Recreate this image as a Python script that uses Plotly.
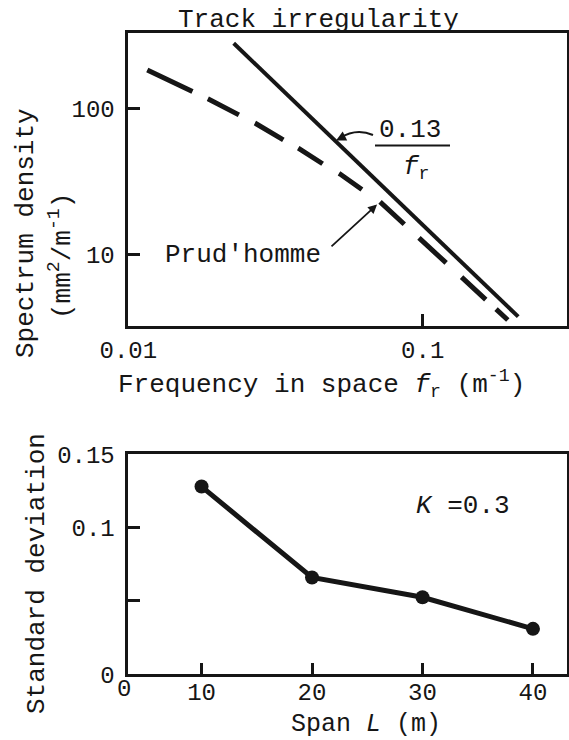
import numpy as np
import plotly.graph_objects as go

# ---- Track irregularity spectra (log-log) ----
# reference line 0.13/f_r
ref_freq = [0.0228, 0.211]            # m^-1
ref_psd = [279.0, 3.74]               # mm^2/m^-1

# Prud'homme spectrum
prud_freq = [0.0116, 0.0166, 0.0187, 0.0238, 0.0270, 0.0337, 0.0379,
             0.0459, 0.0524, 0.0625, 0.0716, 0.1945]
prud_psd = [183.0, 131.0, 116.0, 90.0, 79.0, 60.7, 53.2,
            41.5, 35.5, 27.6, 22.9, 3.55]
kink = 10                              # index where the slope changes

freq_ticks = [0.01, 0.1]
freq_ticktext = ["0.01", "0.1"]
psd_ticks = [10, 100]
psd_ticktext = ["10", "100"]

# ---- Standard deviation vs span ----
span = [10, 20, 30, 40]                # m
std_dev = [0.128, 0.066, 0.0525, 0.031]

span_ticks = [10, 20, 30, 40]
std_ticks = [0, 0.05, 0.1, 0.15]
std_ticktext = ["0", "", "0.1", "0.15"]

FONT = "Liberation Mono, Courier New, monospace"
INK = "#161616"
W, H = 569, 740


def px(x):
    return x / W


def py(y):
    return 1 - y / H


fig = go.Figure()

fig.add_trace(go.Scatter(
    x=ref_freq, y=ref_psd, mode="lines",
    line=dict(color=INK, width=4),
    xaxis="x", yaxis="y", showlegend=False, hoverinfo="skip"))

fig.add_trace(go.Scatter(
    x=prud_freq, y=prud_psd, mode="lines",
    line=dict(color=INK, width=5,
              dash="50px,17px,35px,18px,33px,17px,29px,19px,28px,22px,"
                   "33px,20px,37px,21px,33px,14px,20px,20px"),
    xaxis="x", yaxis="y", showlegend=False, hoverinfo="skip"))

fig.add_trace(go.Scatter(
    x=span, y=std_dev, mode="lines+markers",
    line=dict(color=INK, width=5),
    marker=dict(color=INK, size=14),
    xaxis="x2", yaxis="y2", showlegend=False, hoverinfo="skip"))

axis_common = dict(
    showline=True, linecolor=INK, linewidth=2.5, mirror=True,
    ticks="inside", ticklen=12, tickwidth=2.5, tickcolor=INK,
    showgrid=False, zeroline=False, automargin=False,
    tickfont=dict(family=FONT, size=24, color=INK),
)

xdom = [px(128.3), px(567)]

fig.update_layout(
    template="none",
    width=W, height=H, autosize=False,
    margin=dict(l=0, r=0, t=0, b=0, pad=0, autoexpand=False),
    paper_bgcolor="white", plot_bgcolor="white",
    font=dict(family=FONT, color=INK),
    showlegend=False,
    xaxis=dict(type="log", range=[-2, -0.51], domain=xdom, anchor="y",
               tickvals=freq_ticks, ticktext=freq_ticktext,
               ticklabelstandoff=0, **axis_common),
    yaxis=dict(type="log", range=[0.509, 2.516],
               domain=[py(326), py(33)], anchor="x",
               tickvals=psd_ticks, ticktext=psd_ticktext,
               ticklabelstandoff=6, **axis_common),
    xaxis2=dict(range=[3.37, 43.08], domain=xdom, anchor="y2",
                tickvals=span_ticks, ticklabelstandoff=-6, **axis_common),
    yaxis2=dict(range=[0, 0.15], domain=[py(674.3), py(454.3)], anchor="x2",
                tickvals=std_ticks, ticktext=std_ticktext,
                ticklabelstandoff=6, **axis_common),
)


def label(text, x, y, size=26, angle=0, xanchor="center"):
    fig.add_annotation(
        text=text, x=px(x), y=py(y), xref="paper", yref="paper",
        showarrow=False, textangle=angle, xanchor=xanchor, yanchor="middle",
        font=dict(family=FONT, size=size, color=INK))


# titles and axis titles
label("Track irregularity", 318, 20)
label("Frequency in space <i>f</i><sub>r</sub> (m<sup>-1</sup>)", 321, 384)
label("Spectrum density", 26, 233, angle=-90)
label("(mm<sup>2</sup>/m<sup>-1</sup>)", 61, 256, angle=-90)
label("Standard deviation", 37, 574, angle=-90)
label("Span <i>L</i> (m)", 366, 724, size=25)
label("<i>K</i> =0.3", 463, 506)
label("0", 123.5, 689, size=24)

# curve labels
label("Prud'homme", 163, 255, xanchor="left")
label("0.13", 410, 130)
label("<i>f</i><sub>r</sub>", 416, 168)
fig.add_shape(type="line", xref="paper", yref="paper",
              x0=px(375), x1=px(450), y0=py(145.5), y1=py(145.5),
              line=dict(color=INK, width=2))

# leader from the fraction to the reference line
fig.add_shape(type="path", xref="paper", yref="paper",
              path=f"M {px(373)} {py(135)} Q {px(356)} {py(128)} {px(340)} {py(138)}",
              line=dict(color=INK, width=2))
fig.add_annotation(x=px(336), y=py(140.5), xref="paper", yref="paper",
                   ax=8, ay=-4, text="", showarrow=True,
                   arrowhead=2, arrowsize=1, arrowwidth=2, arrowcolor=INK)

# leader from the Prud'homme label to the kink in its curve
fig.add_annotation(x=np.log10(prud_freq[kink]), y=np.log10(prud_psd[kink]),
                   xref="x", yref="y", ax=-50, ay=46, text="",
                   showarrow=True, arrowhead=2, arrowsize=1, arrowwidth=1.8,
                   arrowcolor=INK, standoff=4)

fig.write_html("out.html")
